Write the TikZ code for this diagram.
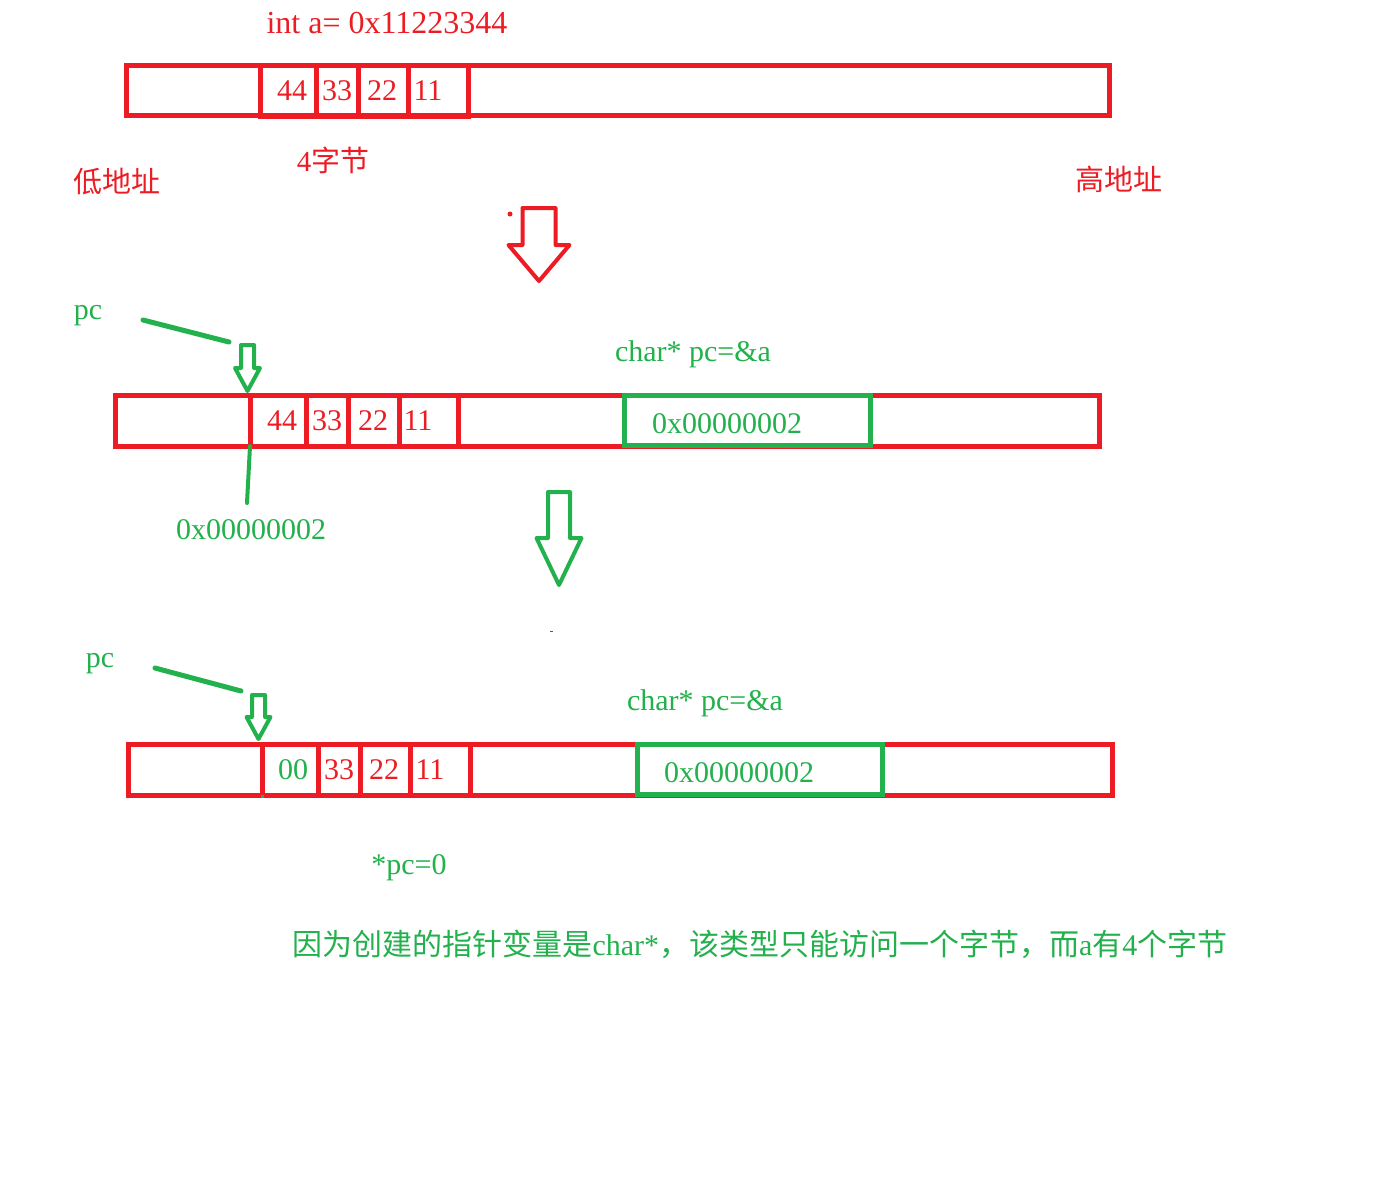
\documentclass[tikz,border=0pt]{standalone}
\usepackage{fontspec}
\setmainfont{Liberation Serif}
\newfontfamily\cjk{Noto Sans CJK SC}
\definecolor{pred}{HTML}{ED1C24}
\definecolor{pgreen}{HTML}{22B14C}
\begin{document}
\begin{tikzpicture}[x=1pt,y=-1pt,
  box/.style={draw=pred, line width=5pt, inner sep=0pt, outer sep=0pt},
  gbox/.style={draw=pgreen, line width=5pt, inner sep=0pt, outer sep=0pt},
  lbl/.style={inner sep=0pt, font=\fontsize{30}{36}\selectfont},
  rlbl/.style={lbl, text=pred},
  glbl/.style={lbl, text=pgreen},
  ptr/.style={draw=pgreen, line width=5pt, line cap=round},
  pics/blockarrow/.style n args={4}{code={
    \draw[line width=4pt, line join=round]
      (-#1,0) -- (#1,0) -- (#1,#3) -- (#2,#3) -- (0,#4) -- (-#2,#3) -- (-#1,#3) -- cycle;}}
]
\useasboundingbox[fill=white] (0,0) rectangle (1376,1203);

% ---------- row 1 ----------
\node[rlbl, font=\fontsize{32}{38}\selectfont] (decl) at (387,23) {int a= 0x11223344};
\node[box, minimum width=983, minimum height=50] (mem1) at (617.5,90) {};
\node[box, minimum width=56, minimum height=51] (c11) at (288,90.5) {};
\node[box, minimum width=42, minimum height=51] (c12) at (337,90.5) {};
\node[box, minimum width=50, minimum height=51] (c13) at (383,90.5) {};
\node[box, minimum width=60, minimum height=51] (c14) at (438,90.5) {};
\node[rlbl] (v11) at (292,91) {44};
\node[rlbl] (v12) at (337,91) {33};
\node[rlbl] (v13) at (382,91) {22};
\node[rlbl] (v14) at (428,91) {11};
\node[rlbl, font=\fontsize{29}{34}\selectfont] (four) at (333,160) {4{\cjk 字节}};
\node[rlbl, font=\fontsize{29}{34}\selectfont\cjk] (low) at (117,182) {低地址};
\node[rlbl, font=\fontsize{29}{34}\selectfont\cjk] (high) at (1119,179) {高地址};
\fill[pred] (510,214) circle (2.5);
\pic[color=pred] at (539,208) {blockarrow={16.5}{30.5}{37}{73}};

% ---------- row 2 ----------
\node[glbl] (pc2) at (88,316) {pc};
\coordinate (p2a) at (143,320);
\coordinate (p2b) at (229,342);
\draw[ptr] (p2a) -- (p2b);
\pic[color=pgreen] at (247.5,345) {blockarrow={6.5}{12.5}{23}{46}};
\node[glbl] (decl2) at (693,354) {char* pc=\&a};
\node[box, minimum width=984, minimum height=51] (mem2) at (607,420.5) {};
\node[box, minimum width=56, minimum height=51] (c21) at (278,420.5) {};
\node[box, minimum width=42, minimum height=51] (c22) at (327,420.5) {};
\node[box, minimum width=51, minimum height=51] (c23) at (373.5,420.5) {};
\node[box, minimum width=59, minimum height=51] (c24) at (428.5,420.5) {};
\node[rlbl] (v21) at (282,421) {44};
\node[rlbl] (v22) at (327,421) {33};
\node[rlbl] (v23) at (373,421) {22};
\node[rlbl] (v24) at (418,421) {11};
\node[gbox, minimum width=246, minimum height=50] (pcv2) at (747,420.5) {};
\node[glbl] (addr2) at (727,424) {0x00000002};
\node[glbl] (addrlbl) at (251,530) {0x00000002};
\coordinate (d2) at (247,503);
\draw[pgreen, line width=4pt, line cap=round] (c21.south west) -- (d2);
\pic[color=pgreen] at (559,492) {blockarrow={11}{22.5}{46}{93}};
\fill[pred] (549.5,630.5) rectangle (552.5,632);

% ---------- row 3 ----------
\node[glbl] (pc3) at (100,664) {pc};
\coordinate (p3a) at (155,668);
\coordinate (p3b) at (241,691);
\draw[ptr] (p3a) -- (p3b);
\pic[color=pgreen] at (258.5,695) {blockarrow={6.5}{12}{22}{44}};
\node[glbl] (decl3) at (705,703) {char* pc=\&a};
\node[box, minimum width=984, minimum height=51] (mem3) at (620,769.5) {};
\node[box, minimum width=56, minimum height=51] (c31) at (290,769.5) {};
\node[box, minimum width=42, minimum height=51] (c32) at (339,769.5) {};
\node[box, minimum width=50, minimum height=51] (c33) at (385,769.5) {};
\node[box, minimum width=60, minimum height=51] (c34) at (440,769.5) {};
\node[glbl] (v31) at (293,770) {00};
\node[rlbl] (v32) at (339,770) {33};
\node[rlbl] (v33) at (384,770) {22};
\node[rlbl] (v34) at (430,770) {11};
\draw[pgreen, line width=3pt] (c31.south west) -- ++(0,3);
\node[gbox, minimum width=245, minimum height=50] (pcv3) at (759.5,769.5) {};
\node[glbl] (addr3) at (739,773) {0x00000002};
\node[glbl] (assign) at (409,868) {*pc=0};

% ---------- note ----------
\node[glbl] (note) at (760,944) {{\cjk 因为创建的指针变量是}char*{\cjk ，该类型只能访问一个字节，而}a{\cjk 有}4{\cjk 个字节}};
\end{tikzpicture}
\end{document}
